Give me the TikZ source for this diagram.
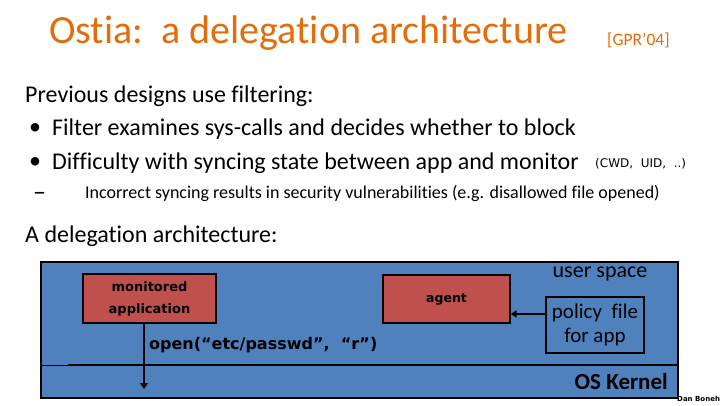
\documentclass[tikz,border=0pt]{standalone}
\usepackage{fontspec}
\setmainfont[Ligatures={NoCommon}]{Carlito}
\newfontfamily\diafont{DejaVu Sans}
\usetikzlibrary{arrows.meta}
\definecolor{ttl}{RGB}{228,108,10}
\definecolor{osblue}{RGB}{79,129,189}
\definecolor{boxred}{RGB}{192,80,77}
\tikzset{
  txt/.style={anchor=west,inner sep=0pt,font=\fontsize{24}{28}\selectfont},
  redbox/.style={draw=black,line width=1.3pt,fill=boxred,inner sep=0pt,align=center},
  dtext/.style={inner sep=0pt,align=center},
}
\begin{document}
\begin{tikzpicture}[x=1pt,y=-1pt]
\useasboundingbox (0,0) rectangle (720,405);
% title
\node[anchor=west,inner sep=0pt,text=ttl,font=\fontsize{40}{46}\selectfont] (title) at (49,33) {Ostia:\ \ a delegation architecture};
\node[anchor=west,inner sep=0pt,text=ttl,font=\fontsize{17.5}{20}\selectfont] (cite) at (607,40) {[GPR’04]};
% body text
\node[txt] (l1) at (25,96) {Previous designs use filtering:};
\node[txt] (b1) at (29,129.5) {\textbullet};
\node[txt] (l2) at (52,129.5) {Filter examines sys-calls and decides whether to block};
\node[txt] (b2) at (29,163) {\textbullet};
\node[txt] (l3) at (52,163) {Difficulty with syncing state between app and monitor};
\node[anchor=west,inner sep=0pt,font=\diafont\fontsize{12}{14}\selectfont] (cwd) at (595,164) {(CWD,\ \ UID,\ \ ..)};
\node[anchor=west,inner sep=0pt,font=\fontsize{26}{28}\selectfont] (dash) at (33,196) {–};
\node[anchor=west,inner sep=0pt,font=\fontsize{18}{21}\selectfont] (l4) at (85,193) {Incorrect syncing results in security vulnerabilities (e.g. disallowed file opened)};
\node[txt] (l5) at (25,236) {A delegation architecture:};
% diagram
\draw[line width=1.5pt,fill=osblue] (41,262) rectangle (678,398);
\coordinate (kl) at (41,365);
\coordinate (km) at (68,365);
\coordinate (kr) at (678,365);
\draw[line width=1pt] (kl) -- (km);
\draw[line width=2pt] (km) -- (kr);
\node[redbox,minimum width=133pt,minimum height=49pt,font=\diafont\bfseries\fontsize{13}{22}\selectfont] (app) at (149.5,298.5) {monitored\\application};
\node[redbox,minimum width=127pt,minimum height=48pt,font=\diafont\bfseries\fontsize{12.5}{14}\selectfont] (agent) at (446.5,299) {agent};
\node[draw=black,line width=1.3pt,fill=osblue,minimum width=98pt,minimum height=56pt,inner sep=0pt,align=center,font=\fontsize{21}{24}\selectfont] (policy) at (595,325) {policy\ \ file\\for app};
\node[dtext,font=\fontsize{22}{25}\selectfont] (us) at (600,274) {user space};
\node[dtext,anchor=east,font=\bfseries\fontsize{23}{26}\selectfont] (os) at (668,382) {OS Kernel};
\node[dtext,anchor=west,font=\diafont\bfseries\fontsize{16}{19}\selectfont] (open) at (149,345) {open(“etc/passwd”,\ \ “r”)};
\node[dtext,anchor=west,font=\diafont\bfseries\fontsize{7}{8}\selectfont] (dan) at (677,399) {Dan Boneh};
\coordinate (down) at (144,389);
\draw[line width=2pt,-{Triangle[length=6pt,width=8pt]}] (app.south -| down) -- (down);
\draw[line width=1.8pt,-{Triangle[length=6pt,width=7pt]}] (policy.west |- 0,314) -- (agent.east |- 0,314);
\end{tikzpicture}
\end{document}
